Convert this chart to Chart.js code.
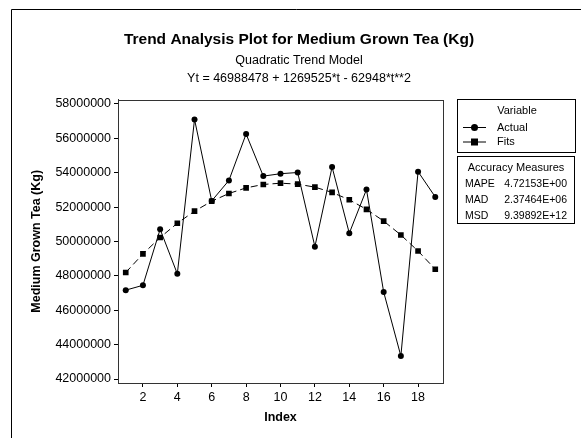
<!DOCTYPE html>
<html>
<head>
<meta charset="utf-8">
<script src="https://cdn.jsdelivr.net/npm/chart.js@4/dist/chart.umd.min.js"></script>
<style>
  html, body { margin: 0; padding: 0; background: #fff; }
  #c { display: block; }
</style>
</head>
<body>
<canvas id="c" width="581" height="438" style="width:581px;height:438px"></canvas>
<script>
// Trend analysis (Minitab style) - Medium Grown Tea

const indexes = [1, 2, 3, 4, 5, 6, 7, 8, 9, 10, 11, 12, 13, 14, 15, 16, 17, 18, 19];
const actual = [47170000, 47450000, 50710000, 48120000, 57100000, 52360000, 53550000, 56250000, 53800000, 53940000,
                54010000, 49700000, 54330000, 50480000, 53020000, 47060000, 43340000, 54060000, 52590000];
const fits = [48195055, 49275736, 50230521, 51059410, 51762403, 52339500, 52790701, 53116006, 53315415, 53388928,
              53336545, 53158266, 52854091, 52424020, 51868053, 51186190, 50378431, 49444776, 48385225];
const xTicks = [2, 4, 6, 8, 10, 12, 14, 16, 18];
const yTicks = [42000000, 44000000, 46000000, 48000000, 50000000, 52000000, 54000000, 56000000, 58000000];
const accuracyNames = ['MAPE', 'MAD', 'MSD'];
const accuracyValues = ['4.72153E+00', '2.37464E+06', '9.39892E+12'];

const FONT = '"Liberation Sans", Arial, sans-serif';

// outer graph frame + plot frame
const frames = {
    id: 'frames',
    beforeDraw(chart) {
        const ctx = chart.ctx;
        ctx.save();
        ctx.strokeStyle = '#000';
        ctx.lineWidth = 1;
        ctx.beginPath();
        ctx.moveTo(11.5, 438);
        ctx.lineTo(11.5, 9.5);
        ctx.lineTo(581, 9.5);
        ctx.stroke();
        ctx.restore();
    },
    afterDraw(chart) {
        const a = chart.chartArea;
        const ctx = chart.ctx;
        ctx.save();
        ctx.strokeStyle = '#333';
        ctx.lineWidth = 1;
        ctx.strokeRect(Math.round(a.left) + 0.5, Math.round(a.top) + 0.5,
            Math.round(a.right - a.left), Math.round(a.bottom - a.top));
        ctx.restore();
    }
};

// Variable + Accuracy Measures boxes on the right
const sideBoxes = {
    id: 'sideBoxes',
    afterDraw(chart) {
        const ctx = chart.ctx;
        ctx.save();
        ctx.strokeStyle = '#000';
        ctx.fillStyle = '#000';
        ctx.lineWidth = 1;
        ctx.strokeRect(457.5, 99.5, 118, 53);
        ctx.strokeRect(457.5, 156.5, 117, 67);

        ctx.font = '11px ' + FONT;
        ctx.textBaseline = 'middle';
        ctx.textAlign = 'center';
        ctx.fillText('Variable', 517, 111);
        ctx.fillText('Accuracy Measures', 516, 168);

        chart.data.datasets.forEach((ds, i) => {
            const y = 127.5 + i * 14.5;
            ctx.beginPath();
            ctx.moveTo(463, y);
            ctx.lineTo(486, y);
            ctx.stroke();
            ctx.beginPath();
            if (ds.pointStyle === 'rect') {
                ctx.rect(471, y - 3.5, 7, 7);
            } else {
                ctx.arc(474.5, y, 3.5, 0, Math.PI * 2);
            }
            ctx.fill();
            ctx.textAlign = 'left';
            ctx.fillText(ds.label, 497, y);
        });

        ctx.font = '10.5px ' + FONT;
        accuracyNames.forEach((name, i) => {
            const y = 184 + i * 16;
            ctx.textAlign = 'left';
            ctx.fillText(name, 465, y);
            ctx.textAlign = 'right';
            ctx.fillText(accuracyValues[i], 567, y);
        });
        ctx.restore();
    }
};

const ctx = document.getElementById('c').getContext('2d');
const chart = new Chart(ctx, {
    type: 'line',
    data: {
        datasets: [
            {
                label: 'Actual',
                data: indexes.map((t, i) => ({ x: t, y: actual[i] })),
                borderColor: '#000',
                backgroundColor: '#000',
                borderWidth: 1,
                pointStyle: 'circle',
                pointRadius: 3,
                pointBorderWidth: 0,
                tension: 0
            },
            {
                label: 'Fits',
                data: indexes.map((t, i) => ({ x: t, y: fits[i] })),
                borderColor: '#000',
                backgroundColor: '#000',
                borderWidth: 1,
                borderDash: [7, 4],
                pointStyle: 'rect',
                pointRadius: 4,
                pointBorderWidth: 0,
                tension: 0
            }
        ]
    },
    options: {
        responsive: false,
        animation: false,
        events: [],
        layout: {
            padding: { left: 17, right: 0, top: 0, bottom: 0 }
        },
        plugins: {
            legend: { display: false },
            tooltip: { enabled: false },
            title: {
                display: true,
                text: 'Trend Analysis Plot for Medium Grown Tea (Kg)',
                color: '#000',
                font: { family: FONT, size: 15.5, weight: 'bold' },
                padding: { top: 30, bottom: 3 }
            },
            subtitle: {
                display: true,
                text: ['Quadratic Trend Model', 'Yt = 46988478 + 1269525*t - 62948*t**2'],
                color: '#000',
                font: { family: FONT, size: 12.5, lineHeight: 1.44 },
                padding: { top: 0, bottom: 12 }
            }
        },
        scales: {
            x: {
                type: 'linear',
                min: 0.55,
                max: 19.45,
                afterBuildTicks: axis => { axis.ticks = xTicks.map(v => ({ value: v })); },
                afterFit: axis => { axis.height = 55; },
                grid: { drawOnChartArea: false, drawTicks: true, tickLength: 4, color: '#000' },
                border: { color: '#555' },
                ticks: { color: '#000', font: { family: FONT, size: 12.5 }, padding: 3, maxRotation: 0 },
                title: {
                    display: true,
                    text: 'Index',
                    color: '#000',
                    font: { family: FONT, size: 12.5, weight: 'bold' },
                    padding: { top: 0, bottom: 13 }
                }
            },
            y: {
                type: 'linear',
                min: 41770000,
                max: 58250000,
                afterBuildTicks: axis => { axis.ticks = yTicks.map(v => ({ value: v })); },
                afterFit: axis => { axis.width = 101; },
                grid: { drawOnChartArea: false, drawTicks: true, tickLength: 4, color: '#000' },
                border: { color: '#333' },
                ticks: {
                    color: '#000',
                    font: { family: FONT, size: 12.5 },
                    padding: 3,
                    callback: v => String(v)
                },
                title: {
                    display: true,
                    text: 'Medium Grown Tea (Kg)',
                    color: '#000',
                    font: { family: FONT, size: 12.5, weight: 'bold' },
                    padding: { top: 12, bottom: 0 }
                }
            },
            // empty right-hand axis only reserves room for the side boxes
            yRight: {
                position: 'right',
                display: true,
                afterFit: axis => { axis.width = 138; },
                grid: { display: false },
                border: { display: false },
                ticks: { display: false }
            }
        }
    },
    plugins: [frames, sideBoxes]
});
</script>
</body>
</html>
